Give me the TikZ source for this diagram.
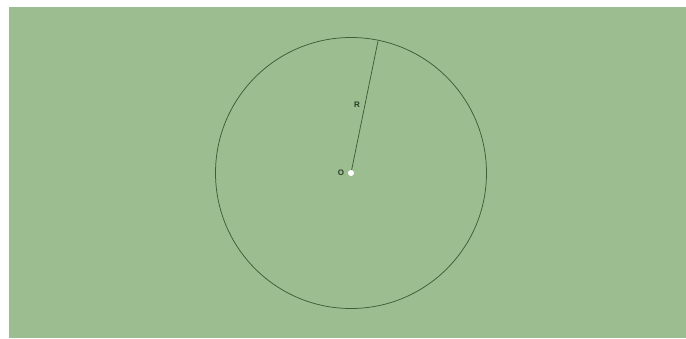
\documentclass[tikz,border=0pt]{standalone}
\usepackage{fontspec}
\setmainfont{Liberation Sans}
\definecolor{bg}{RGB}{155,189,143}
\definecolor{ln}{RGB}{60,95,55}
\definecolor{tx}{RGB}{40,60,40}
\tikzset{lbl/.style={text=tx,font=\fontsize{8}{9}\selectfont\bfseries,inner sep=0pt}}
\begin{document}
\begin{tikzpicture}[x=1pt,y=-1pt]
\useasboundingbox (0,0) rectangle (686,338);
\fill[white] (0,0) rectangle (686,338);
\fill[bg] (9,7) rectangle (686,338);
\coordinate (O) at (351,173);
\coordinate (P) at (378,41);
\draw[ln,line width=0.75pt] (O) circle[radius=135.5];
\draw[ln,line width=0.75pt] (O) -- (P);
\fill[white] (O) circle[radius=3];
\node[lbl] (lo) at (341,173) {O};
\node[lbl] (lr) at (357,105) {R};
\end{tikzpicture}
\end{document}
